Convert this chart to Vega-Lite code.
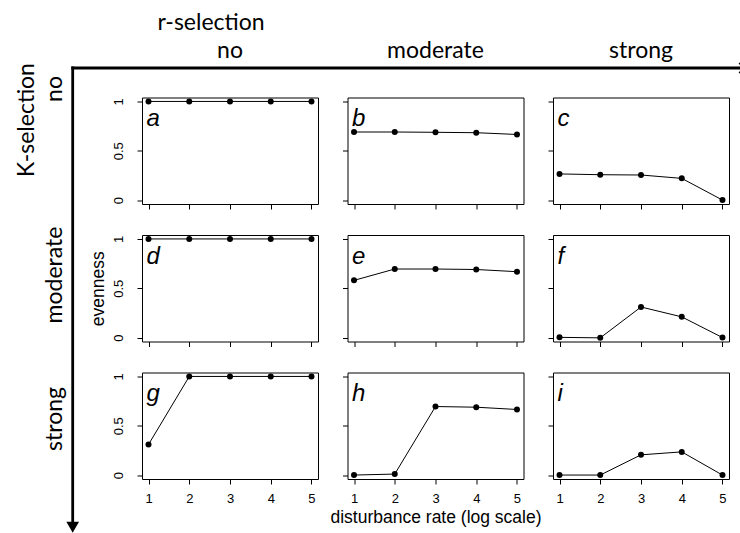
{
"$schema": "https://vega.github.io/schema/vega-lite/v6.json",
"autosize": {"type": "none"},
"padding": {"left": 142, "top": 97.5, "right": 598, "bottom": 435.5},
"datasets": {
"evenness": [
{"panel":"a","rate":1,"evenness":1},{"panel":"a","rate":2,"evenness":1},{"panel":"a","rate":3,"evenness":1},{"panel":"a","rate":4,"evenness":1},{"panel":"a","rate":5,"evenness":1},
{"panel":"b","rate":1,"evenness":0.69},{"panel":"b","rate":2,"evenness":0.69},{"panel":"b","rate":3,"evenness":0.687},{"panel":"b","rate":4,"evenness":0.683},{"panel":"b","rate":5,"evenness":0.665},
{"panel":"c","rate":1,"evenness":0.265},{"panel":"c","rate":2,"evenness":0.257},{"panel":"c","rate":3,"evenness":0.254},{"panel":"c","rate":4,"evenness":0.22},{"panel":"c","rate":5,"evenness":0},
{"panel":"d","rate":1,"evenness":1},{"panel":"d","rate":2,"evenness":1},{"panel":"d","rate":3,"evenness":1},{"panel":"d","rate":4,"evenness":1},{"panel":"d","rate":5,"evenness":1},
{"panel":"e","rate":1,"evenness":0.58},{"panel":"e","rate":2,"evenness":0.695},{"panel":"e","rate":3,"evenness":0.695},{"panel":"e","rate":4,"evenness":0.69},{"panel":"e","rate":5,"evenness":0.668},
{"panel":"f","rate":1,"evenness":0.002},{"panel":"f","rate":2,"evenness":-0.003},{"panel":"f","rate":3,"evenness":0.31},{"panel":"f","rate":4,"evenness":0.21},{"panel":"f","rate":5,"evenness":0},
{"panel":"g","rate":1,"evenness":0.31},{"panel":"g","rate":2,"evenness":1},{"panel":"g","rate":3,"evenness":1},{"panel":"g","rate":4,"evenness":1},{"panel":"g","rate":5,"evenness":1},
{"panel":"h","rate":1,"evenness":0},{"panel":"h","rate":2,"evenness":0.01},{"panel":"h","rate":3,"evenness":0.695},{"panel":"h","rate":4,"evenness":0.688},{"panel":"h","rate":5,"evenness":0.665},
{"panel":"i","rate":1,"evenness":0},{"panel":"i","rate":2,"evenness":0},{"panel":"i","rate":3,"evenness":0.205},{"panel":"i","rate":4,"evenness":0.235},{"panel":"i","rate":5,"evenness":0}
],
"panels": [{"panel":"a"},{"panel":"b"},{"panel":"c"},{"panel":"d"},{"panel":"e"},{"panel":"f"},{"panel":"g"},{"panel":"h"},{"panel":"i"}],
"annotations": [{"label":"r-selection"},{"label":"K-selection"},{"label":"col-no","text":"no"},{"label":"col-moderate","text":"moderate"},{"label":"col-strong","text":"strong"},{"label":"row-no","text":"no"},{"label":"row-moderate","text":"moderate"},{"label":"row-strong","text":"strong"}]
},
"columns": 3,
"bounds": "flush",
"spacing": {"row": 30.5, "column": 29.5},
"concat": [
{"width":176,"height":106.5,"layer":[
 {"data":{"name":"evenness"},"transform":[{"filter":"datum.panel==='a'"}],"mark":{"type":"line","color":"black","strokeWidth":1,"point":{"filled":true,"color":"black","size":36,"opacity":1}},
  "encoding":{"x":{"field":"rate","type":"quantitative","scale":{"domain":[0.84,5.16],"nice":false,"zero":false},"axis":{"values":[1,2,3,4,5],"labels":false,"title":null}},
  "y":{"field":"evenness","type":"quantitative","scale":{"domain":[-0.04,1.04],"nice":false,"zero":false},"axis":{"values":[0,0.25,0.5,0.75,1],"labels":true,"labelExpr":"datum.value==0?'0':datum.value==0.5?'0.5':datum.value==1?'1':''","title":null}}}},
 {"data":{"name":"panels"},"transform":[{"filter":"datum.panel==='a'"}],"mark":{"type":"text","font":"Liberation Sans","fontStyle":"italic","fontSize":24,"align":"left","baseline":"alphabetic","dx":-2,"color":"black"},"encoding":{"x":{"datum":1},"y":{"datum":0.75},"text":{"field":"panel"}}},
 {"data":{"name":"annotations"},"transform":[{"filter":"datum.label==='r-selection'"}],"mark":{"type":"rule","color":"black","strokeWidth":2.8,"strokeCap":"square"},"encoding":{"x":{"datum":-0.861},"x2":{"datum":15.55},"y":{"datum":1.339}}},
 {"data":{"name":"annotations"},"transform":[{"filter":"datum.label==='K-selection'"}],"mark":{"type":"rule","color":"black","strokeWidth":2.8,"strokeCap":"square"},"encoding":{"x":{"datum":-0.861},"y":{"datum":1.339},"y2":{"datum":-3.265}}},
 {"data":{"name":"annotations"},"transform":[{"filter":"datum.label==='K-selection'"}],"mark":{"type":"point","filled":true,"color":"black","opacity":1,"shape":"M-1,-0.866L1,-0.866L0,0.866Z","size":161},"encoding":{"x":{"datum":-0.861},"y":{"datum":-3.318}}},
 {"data":{"name":"annotations"},"transform":[{"filter":"datum.label==='r-selection'"}],"mark":{"type":"point","filled":false,"color":"black","opacity":1,"strokeWidth":1.5,"shape":"M-1,-1L0,0L-1,1","size":100},"encoding":{"x":{"datum":15.62},"y":{"datum":1.339}}},
 {"data":{"name":"annotations"},"transform":[{"filter":"datum.label==='r-selection'"}],"mark":{"type":"text","font":"Lato","fontSize":23,"align":"center","baseline":"alphabetic","color":"black"},"encoding":{"x":{"datum":2.534},"y":{"datum":1.7245},"text":{"field":"label"}}},
 {"data":{"name":"annotations"},"transform":[{"filter":"datum.label==='col-no'"}],"mark":{"type":"text","font":"Lato","fontSize":23,"align":"center","baseline":"alphabetic","color":"black"},"encoding":{"x":{"datum":3},"y":{"datum":1.4406},"text":{"field":"text"}}},
 {"data":{"name":"annotations"},"transform":[{"filter":"datum.label==='col-moderate'"}],"mark":{"type":"text","font":"Lato","fontSize":23,"align":"center","baseline":"alphabetic","color":"black"},"encoding":{"x":{"datum":8.044},"y":{"datum":1.4406},"text":{"field":"text"}}},
 {"data":{"name":"annotations"},"transform":[{"filter":"datum.label==='col-strong'"}],"mark":{"type":"text","font":"Lato","fontSize":23,"align":"center","baseline":"alphabetic","color":"black"},"encoding":{"x":{"datum":13.088},"y":{"datum":1.4406},"text":{"field":"text"}}},
 {"data":{"name":"annotations"},"transform":[{"filter":"datum.label==='K-selection'"}],"mark":{"type":"text","font":"Lato","fontSize":23,"align":"center","baseline":"alphabetic","angle":270,"color":"black"},"encoding":{"x":{"datum":-1.811},"y":{"datum":0.812},"text":{"field":"label"}}},
 {"data":{"name":"annotations"},"transform":[{"filter":"datum.label==='row-no'"}],"mark":{"type":"text","font":"Lato","fontSize":23,"align":"center","baseline":"alphabetic","angle":270,"color":"black"},"encoding":{"x":{"datum":-1.124},"y":{"datum":1.126},"text":{"field":"text"}}},
 {"data":{"name":"annotations"},"transform":[{"filter":"datum.label==='row-moderate'"}],"mark":{"type":"text","font":"Lato","fontSize":23,"align":"center","baseline":"alphabetic","angle":270,"color":"black"},"encoding":{"x":{"datum":-1.124},"y":{"datum":-0.76},"text":{"field":"text"}}},
 {"data":{"name":"annotations"},"transform":[{"filter":"datum.label==='row-strong'"}],"mark":{"type":"text","font":"Lato","fontSize":23,"align":"center","baseline":"alphabetic","angle":270,"color":"black"},"encoding":{"x":{"datum":-1.124},"y":{"datum":-2.22},"text":{"field":"text"}}}
]},
{"width":176,"height":106.5,"layer":[
 {"data":{"name":"evenness"},"transform":[{"filter":"datum.panel==='b'"}],"mark":{"type":"line","color":"black","strokeWidth":1,"point":{"filled":true,"color":"black","size":36,"opacity":1}},
  "encoding":{"x":{"field":"rate","type":"quantitative","scale":{"domain":[0.84,5.16],"nice":false,"zero":false},"axis":{"values":[1,2,3,4,5],"labels":false,"title":null}},
  "y":{"field":"evenness","type":"quantitative","scale":{"domain":[-0.04,1.04],"nice":false,"zero":false},"axis":{"values":[0,0.25,0.5,0.75,1],"labels":false,"title":null}}}},
 {"data":{"name":"panels"},"transform":[{"filter":"datum.panel==='b'"}],"mark":{"type":"text","font":"Liberation Sans","fontStyle":"italic","fontSize":24,"align":"left","baseline":"alphabetic","dx":-2,"color":"black"},"encoding":{"x":{"datum":1},"y":{"datum":0.75},"text":{"field":"panel"}}}
]},
{"width":176,"height":106.5,"layer":[
 {"data":{"name":"evenness"},"transform":[{"filter":"datum.panel==='c'"}],"mark":{"type":"line","color":"black","strokeWidth":1,"point":{"filled":true,"color":"black","size":36,"opacity":1}},
  "encoding":{"x":{"field":"rate","type":"quantitative","scale":{"domain":[0.84,5.16],"nice":false,"zero":false},"axis":{"values":[1,2,3,4,5],"labels":false,"title":null}},
  "y":{"field":"evenness","type":"quantitative","scale":{"domain":[-0.04,1.04],"nice":false,"zero":false},"axis":{"values":[0,0.25,0.5,0.75,1],"labels":false,"title":null}}}},
 {"data":{"name":"panels"},"transform":[{"filter":"datum.panel==='c'"}],"mark":{"type":"text","font":"Liberation Sans","fontStyle":"italic","fontSize":24,"align":"left","baseline":"alphabetic","dx":-2,"color":"black"},"encoding":{"x":{"datum":1},"y":{"datum":0.75},"text":{"field":"panel"}}}
]},
{"width":176,"height":106.5,"layer":[
 {"data":{"name":"evenness"},"transform":[{"filter":"datum.panel==='d'"}],"mark":{"type":"line","color":"black","strokeWidth":1,"point":{"filled":true,"color":"black","size":36,"opacity":1}},
  "encoding":{"x":{"field":"rate","type":"quantitative","scale":{"domain":[0.84,5.16],"nice":false,"zero":false},"axis":{"values":[1,2,3,4,5],"labels":false,"title":null}},
  "y":{"field":"evenness","type":"quantitative","scale":{"domain":[-0.04,1.04],"nice":false,"zero":false},"axis":{"values":[0,0.25,0.5,0.75,1],"labels":true,"labelExpr":"datum.value==0?'0':datum.value==0.5?'0.5':datum.value==1?'1':''","title":"evenness"}}}},
 {"data":{"name":"panels"},"transform":[{"filter":"datum.panel==='d'"}],"mark":{"type":"text","font":"Liberation Sans","fontStyle":"italic","fontSize":24,"align":"left","baseline":"alphabetic","dx":-2,"color":"black"},"encoding":{"x":{"datum":1},"y":{"datum":0.75},"text":{"field":"panel"}}}
]},
{"width":176,"height":106.5,"layer":[
 {"data":{"name":"evenness"},"transform":[{"filter":"datum.panel==='e'"}],"mark":{"type":"line","color":"black","strokeWidth":1,"point":{"filled":true,"color":"black","size":36,"opacity":1}},
  "encoding":{"x":{"field":"rate","type":"quantitative","scale":{"domain":[0.84,5.16],"nice":false,"zero":false},"axis":{"values":[1,2,3,4,5],"labels":false,"title":null}},
  "y":{"field":"evenness","type":"quantitative","scale":{"domain":[-0.04,1.04],"nice":false,"zero":false},"axis":{"values":[0,0.25,0.5,0.75,1],"labels":false,"title":null}}}},
 {"data":{"name":"panels"},"transform":[{"filter":"datum.panel==='e'"}],"mark":{"type":"text","font":"Liberation Sans","fontStyle":"italic","fontSize":24,"align":"left","baseline":"alphabetic","dx":-2,"color":"black"},"encoding":{"x":{"datum":1},"y":{"datum":0.75},"text":{"field":"panel"}}}
]},
{"width":176,"height":106.5,"layer":[
 {"data":{"name":"evenness"},"transform":[{"filter":"datum.panel==='f'"}],"mark":{"type":"line","color":"black","strokeWidth":1,"point":{"filled":true,"color":"black","size":36,"opacity":1}},
  "encoding":{"x":{"field":"rate","type":"quantitative","scale":{"domain":[0.84,5.16],"nice":false,"zero":false},"axis":{"values":[1,2,3,4,5],"labels":false,"title":null}},
  "y":{"field":"evenness","type":"quantitative","scale":{"domain":[-0.04,1.04],"nice":false,"zero":false},"axis":{"values":[0,0.25,0.5,0.75,1],"labels":false,"title":null}}}},
 {"data":{"name":"panels"},"transform":[{"filter":"datum.panel==='f'"}],"mark":{"type":"text","font":"Liberation Sans","fontStyle":"italic","fontSize":24,"align":"left","baseline":"alphabetic","dx":-2,"color":"black"},"encoding":{"x":{"datum":1},"y":{"datum":0.75},"text":{"field":"panel"}}}
]},
{"width":176,"height":106.5,"layer":[
 {"data":{"name":"evenness"},"transform":[{"filter":"datum.panel==='g'"}],"mark":{"type":"line","color":"black","strokeWidth":1,"point":{"filled":true,"color":"black","size":36,"opacity":1}},
  "encoding":{"x":{"field":"rate","type":"quantitative","scale":{"domain":[0.84,5.16],"nice":false,"zero":false},"axis":{"values":[1,2,3,4,5],"labels":true,"title":null}},
  "y":{"field":"evenness","type":"quantitative","scale":{"domain":[-0.04,1.04],"nice":false,"zero":false},"axis":{"values":[0,0.25,0.5,0.75,1],"labels":true,"labelExpr":"datum.value==0?'0':datum.value==0.5?'0.5':datum.value==1?'1':''","title":null}}}},
 {"data":{"name":"panels"},"transform":[{"filter":"datum.panel==='g'"}],"mark":{"type":"text","font":"Liberation Sans","fontStyle":"italic","fontSize":24,"align":"left","baseline":"alphabetic","dx":-2,"color":"black"},"encoding":{"x":{"datum":1},"y":{"datum":0.75},"text":{"field":"panel"}}}
]},
{"width":176,"height":106.5,"layer":[
 {"data":{"name":"evenness"},"transform":[{"filter":"datum.panel==='h'"}],"mark":{"type":"line","color":"black","strokeWidth":1,"point":{"filled":true,"color":"black","size":36,"opacity":1}},
  "encoding":{"x":{"field":"rate","type":"quantitative","scale":{"domain":[0.84,5.16],"nice":false,"zero":false},"axis":{"values":[1,2,3,4,5],"labels":true,"title":"disturbance rate (log scale)"}},
  "y":{"field":"evenness","type":"quantitative","scale":{"domain":[-0.04,1.04],"nice":false,"zero":false},"axis":{"values":[0,0.25,0.5,0.75,1],"labels":false,"title":null}}}},
 {"data":{"name":"panels"},"transform":[{"filter":"datum.panel==='h'"}],"mark":{"type":"text","font":"Liberation Sans","fontStyle":"italic","fontSize":24,"align":"left","baseline":"alphabetic","dx":-2,"color":"black"},"encoding":{"x":{"datum":1},"y":{"datum":0.75},"text":{"field":"panel"}}}
]},
{"width":176,"height":106.5,"layer":[
 {"data":{"name":"evenness"},"transform":[{"filter":"datum.panel==='i'"}],"mark":{"type":"line","color":"black","strokeWidth":1,"point":{"filled":true,"color":"black","size":36,"opacity":1}},
  "encoding":{"x":{"field":"rate","type":"quantitative","scale":{"domain":[0.84,5.16],"nice":false,"zero":false},"axis":{"values":[1,2,3,4,5],"labels":true,"title":null}},
  "y":{"field":"evenness","type":"quantitative","scale":{"domain":[-0.04,1.04],"nice":false,"zero":false},"axis":{"values":[0,0.25,0.5,0.75,1],"labels":false,"title":null}}}},
 {"data":{"name":"panels"},"transform":[{"filter":"datum.panel==='i'"}],"mark":{"type":"text","font":"Liberation Sans","fontStyle":"italic","fontSize":24,"align":"left","baseline":"alphabetic","dx":-2,"color":"black"},"encoding":{"x":{"datum":1},"y":{"datum":0.75},"text":{"field":"panel"}}}
]}
],
"config": {
 "background": "white",
 "view": {"stroke": "black", "strokeWidth": 1},
 "axis": {"domain": false, "grid": false, "tickColor": "black", "tickSize": 5, "tickWidth": 1, "labelFont": "Liberation Sans", "labelFontSize": 13, "labelColor": "black", "labelFlush": false, "labelOverlap": false, "labelBound": false, "titleFont": "Liberation Sans", "titleFontSize": 17.5, "titleFontWeight": "normal", "titleColor": "black"},
 "axisX": {"labelAngle": 0, "labelPadding": 8, "titlePadding": 3},
 "axisY": {"labelAngle": 270, "labelAlign": "center", "labelBaseline": "bottom", "labelPadding": 12, "titlePadding": 5}
}
}
